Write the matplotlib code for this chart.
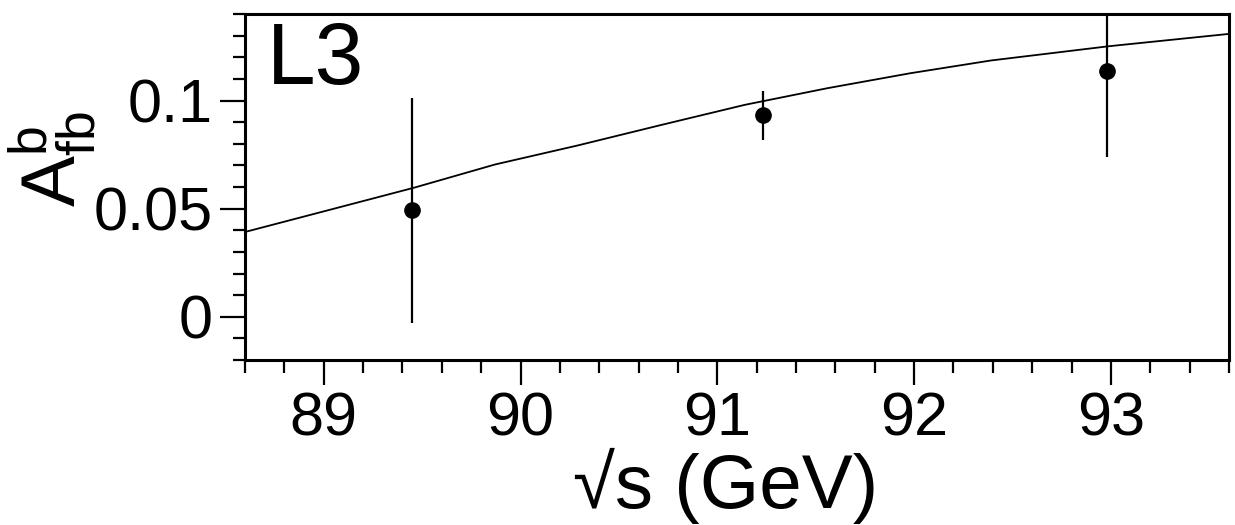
import matplotlib
matplotlib.use("Agg")
import matplotlib.pyplot as plt
from matplotlib.ticker import MultipleLocator

plt.rcParams['font.family'] = ['Liberation Sans', 'DejaVu Sans']
plt.rcParams['mathtext.fontset'] = 'custom'
plt.rcParams['mathtext.rm'] = 'Liberation Sans'
plt.rcParams['mathtext.it'] = 'Liberation Sans'

# ---- data ----
sqrt_s = [89.45, 91.23, 92.98]
afb = [0.0492, 0.0931, 0.1138]
afb_err = [0.052, 0.0113, 0.040]

# theory curve (sampled by eye)
curve_x = [88.60, 89.02, 89.46, 89.87, 90.29, 90.72, 91.14, 91.56, 91.98,
           92.39, 92.99, 93.60]
curve_y = [0.0392, 0.0492, 0.0597, 0.0704, 0.0792, 0.0888, 0.0980, 0.1057,
           0.1126, 0.1185, 0.1251, 0.1308]

fig = plt.figure(figsize=(12.35, 5.25), dpi=100)
ax = fig.add_axes([245 / 1235, 165 / 525, 984 / 1235, 346 / 525])

ax.plot(curve_x, curve_y, color="black", lw=1.3)
ax.errorbar(sqrt_s, afb, yerr=afb_err, fmt="o", color="black",
            ms=11, elinewidth=1.6, capsize=0)

ax.set_xlim(88.6, 93.6)
ax.set_ylim(-0.02, 0.14)

ax.xaxis.set_major_locator(MultipleLocator(1))
ax.xaxis.set_minor_locator(MultipleLocator(0.2))
ax.yaxis.set_minor_locator(MultipleLocator(0.01))
ax.set_yticks([0, 0.05, 0.1])
ax.set_yticklabels(["0", "0.05", "0.1"])

for s in ax.spines.values():
    s.set_linewidth(2.2)
ax.tick_params(which="major", direction="out", length=18, width=1.6,
               labelsize=44, top=False, right=False)
ax.tick_params(which="minor", direction="out", length=9, width=1.6,
               top=False, right=False)
ax.tick_params(axis="y", which="major", pad=5)
ax.tick_params(axis="x", which="major", pad=5)

ax.set_xlabel("√s (GeV)", fontsize=55, va="top")
ax.xaxis.set_label_coords(0.488, -0.255)
ax.set_ylabel(r"$\mathrm{A}_{\mathrm{fb}}^{\mathrm{b}}$", fontsize=55)
ax.yaxis.set_label_coords(-0.148, 0.58)

ax.text(0.022, 0.797, "L3", transform=ax.transAxes, fontsize=63,
        ha="left", va="baseline")

fig.savefig("out.png", dpi=100)
